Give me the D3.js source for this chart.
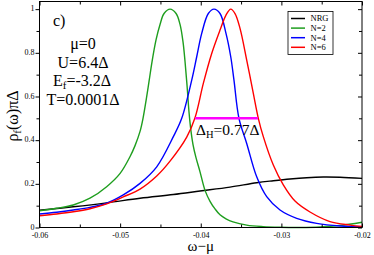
<!DOCTYPE html>
<meta charset="utf-8">
<style>
body { margin: 0; }
.line { fill: none; stroke-width: 1.4px; }
text { font-family: "Liberation Serif", "DejaVu Serif", serif; }
.tick line { stroke: #000; }
</style>
<script src="https://d3js.org/d3.v7.min.js"></script>
<body>
<div id="chart"></div>
</body>
<script>

// spectral function curves [omega - mu, rho]
var nrg = [
  [-0.06, 0.079], [-0.05581, 0.095], [-0.05167, 0.113], [-0.04753, 0.134],
  [-0.04340, 0.151], [-0.04009, 0.167], [-0.03637, 0.185], [-0.03306, 0.205],
  [-0.03100, 0.214], [-0.02893, 0.222], [-0.02686, 0.228], [-0.02480, 0.231],
  [-0.02273, 0.230], [-0.02, 0.225]
];
var n2 = [
  [-0.06, 0.076], [-0.05787, 0.088], [-0.05581, 0.103], [-0.05374, 0.134],
  [-0.05167, 0.187], [-0.05, 0.248], [-0.04878, 0.324], [-0.04815, 0.375],
  [-0.04753, 0.440], [-0.04716, 0.500], [-0.04679, 0.580], [-0.04641, 0.670],
  [-0.04604, 0.760], [-0.04554, 0.860], [-0.04505, 0.930], [-0.04455, 0.980],
  [-0.04381, 1.0], [-0.04306, 0.980], [-0.04257, 0.930], [-0.04220, 0.850],
  [-0.04195, 0.760], [-0.04170, 0.650], [-0.04146, 0.530], [-0.04127, 0.460],
  [-0.04096, 0.380], [-0.04059, 0.320], [-0.04009, 0.255], [-0.03947, 0.170],
  [-0.03885, 0.120], [-0.03823, 0.085], [-0.03761, 0.058], [-0.03687, 0.040],
  [-0.03600, 0.026], [-0.03430, 0.011], [-0.03228, 0.004], [-0.03017, 0.001],
  [-0.02769, 0.0], [-0.02521, 0.002], [-0.02273, 0.009], [-0.02, 0.024]
];
var n4 = [
  [-0.06, 0.062], [-0.05787, 0.070], [-0.05581, 0.080], [-0.05374, 0.092],
  [-0.05167, 0.111], [-0.04961, 0.149], [-0.04753, 0.202], [-0.04546, 0.278],
  [-0.04340, 0.416], [-0.04236, 0.500], [-0.04112, 0.675], [-0.04050, 0.782],
  [-0.03988, 0.889], [-0.03906, 0.980], [-0.03836, 1.0], [-0.03761, 0.980],
  [-0.03687, 0.889], [-0.03628, 0.782], [-0.03588, 0.675], [-0.03526, 0.500],
  [-0.03430, 0.385], [-0.03306, 0.232], [-0.03182, 0.141], [-0.03017, 0.080],
  [-0.02810, 0.042], [-0.02562, 0.019], [-0.02273, 0.007], [-0.02, 0.004]
];
var n6 = [
  [-0.06, 0.054], [-0.05787, 0.062], [-0.05581, 0.072], [-0.05374, 0.086],
  [-0.05167, 0.108], [-0.04961, 0.140], [-0.04753, 0.176], [-0.04546, 0.236],
  [-0.04381, 0.304], [-0.04174, 0.414], [-0.04071, 0.503], [-0.03968, 0.660],
  [-0.03864, 0.797], [-0.03761, 0.904], [-0.03687, 0.973], [-0.03628, 1.0],
  [-0.03575, 0.980], [-0.03513, 0.912], [-0.03430, 0.767], [-0.03348, 0.614],
  [-0.03286, 0.500], [-0.03224, 0.416], [-0.03100, 0.286], [-0.02976, 0.195],
  [-0.02831, 0.121], [-0.02645, 0.071], [-0.02397, 0.027], [-0.02149, 0.011],
  [-0.02, 0.005]
];

// half width marker on the N=6 peak
var halfWidthX = [-0.0407, -0.0329];
var halfWidthY = 0.5;

var seriesNames = ["NRG", "N=2", "N=4", "N=6"];
var seriesColors = ["#000000", "#1e9e1e", "#0000ff", "#ff0000"];

var xTickVals = [-0.06, -0.05, -0.04, -0.03, -0.02];
var xTickLabels = ["-0.06", "-0.05", "-0.04", "-0.03", "-0.02"];
var xMinorVals = [-0.055, -0.045, -0.035, -0.025];
var yTickVals = [0, 0.2, 0.4, 0.6, 0.8, 1];
var yTickLabels = ["0", "0.2", "0.4", "0.6", "0.8", "1"];
var yMinorVals = [0.1, 0.3, 0.5, 0.7, 0.9];

// set the dimensions and margins of the graph
var margin = {top: 1.5, right: 12, bottom: 27.5, left: 39.5},
    width = 374 - margin.left - margin.right,
    height = 255 - margin.top - margin.bottom;

var x = d3.scaleLinear().domain([-0.06, -0.02]).range([0, width]);
var y = d3.scaleLinear().domain([0, 1.035]).range([height, 0]);

var svg = d3.select("#chart").append("svg")
    .attr("width", 374)
    .attr("height", 255);

var g = svg.append("g")
    .attr("transform", "translate(" + margin.left + "," + margin.top + ")");

var valueline = d3.line()
    .x(function(d) { return x(d[0]); })
    .y(function(d) { return y(d[1]); })
    .curve(d3.curveCatmullRom.alpha(0.5));

// curves
[nrg, n2, n4, n6].forEach(function(s, i) {
  g.append("path")
      .datum(s)
      .attr("class", "line")
      .style("stroke", seriesColors[i])
      .attr("d", valueline);
});

// magenta half width line
g.append("line")
    .attr("x1", x(halfWidthX[0]))
    .attr("x2", x(halfWidthX[1]))
    .attr("y1", y(halfWidthY))
    .attr("y2", y(halfWidthY))
    .style("stroke", "#ff00ff")
    .style("stroke-width", 2.5);

// axes - bottom
g.append("g")
    .attr("transform", "translate(0," + height + ")")
    .call(d3.axisBottom(x).tickValues(xTickVals)
      .tickFormat(function(d, i) { return xTickLabels[i]; })
      .tickSize(-4).tickSizeOuter(0).tickPadding(5));
g.append("g")
    .attr("transform", "translate(0," + height + ")")
    .call(d3.axisBottom(x).tickValues(xMinorVals).tickFormat("").tickSize(-3).tickSizeOuter(0));
// top
g.append("g")
    .call(d3.axisTop(x).tickValues(xTickVals).tickFormat("").tickSize(-4).tickSizeOuter(0));
g.append("g")
    .call(d3.axisTop(x).tickValues(xMinorVals).tickFormat("").tickSize(-3).tickSizeOuter(0));
// left
g.append("g")
    .attr("class", "yaxis")
    .call(d3.axisLeft(y).tickValues(yTickVals)
      .tickFormat(function(d, i) { return yTickLabels[i]; })
      .tickSize(4).tickSizeOuter(0).tickPadding(1));
g.append("g")
    .call(d3.axisLeft(y).tickValues(yMinorVals).tickFormat("").tickSize(3).tickSizeOuter(0));
// right
g.append("g")
    .attr("transform", "translate(" + width + ",0)")
    .call(d3.axisRight(y).tickValues(yTickVals).tickFormat("").tickSize(-4).tickSizeOuter(0));
g.append("g")
    .attr("transform", "translate(" + width + ",0)")
    .call(d3.axisRight(y).tickValues(yMinorVals).tickFormat("").tickSize(-3).tickSizeOuter(0));

g.selectAll(".domain").remove();
g.selectAll(".tick text")
    .style("font-family", "'Liberation Serif', serif")
    .style("font-size", "8px")
    .style("fill", "#000");
g.selectAll(".yaxis .tick text").attr("dy", "0.22em");

// frame
g.append("rect")
    .attr("width", width)
    .attr("height", height)
    .style("fill", "none")
    .style("stroke", "#000")
    .style("stroke-width", 1);

// legend
var legend = g.append("g").attr("transform", "translate(248.5,10)");
legend.append("rect")
    .attr("width", 45)
    .attr("height", 43)
    .style("fill", "#fff")
    .style("stroke", "#000")
    .style("stroke-width", 0.8);
seriesNames.forEach(function(name, i) {
  var ry = 7 + i * 9.6;
  legend.append("line")
      .attr("x1", 3).attr("x2", 17)
      .attr("y1", ry).attr("y2", ry)
      .style("stroke", seriesColors[i])
      .style("stroke-width", 1.5);
  legend.append("text")
      .attr("x", 22.5).attr("y", ry)
      .attr("dy", "0.35em")
      .style("font-size", "8.5px")
      .text(name);
});

// annotations
svg.append("text").attr("x", 53).attr("y", 25.5)
    .style("font-size", "16px").text("c)");

var params = svg.append("g").style("font-size", "16px").attr("text-anchor", "middle");
params.append("text").attr("x", 83).attr("y", 49).text("μ=0");
params.append("text").attr("x", 83).attr("y", 67.5).text("U=6.4Δ");
var ef = params.append("text").attr("x", 82).attr("y", 86);
ef.append("tspan").text("E");
ef.append("tspan").attr("dy", 3).style("font-size", "11px").text("f");
ef.append("tspan").attr("dy", -3).text("=-3.2Δ");
params.append("text").attr("x", 83).attr("y", 104.5).text("T=0.0001Δ");

var dh = svg.append("text").attr("x", 196).attr("y", 135).style("font-size", "15.5px");
dh.append("tspan").text("Δ");
dh.append("tspan").attr("dy", 3).style("font-size", "10.5px").text("H");
dh.append("tspan").attr("dy", -3).text("=0.77Δ");

// axis titles
svg.append("text")
    .attr("x", margin.left + x(-0.04))
    .attr("y", 251)
    .attr("text-anchor", "middle")
    .style("font-size", "15px")
    .text("ω−μ");

var yl = svg.append("text")
    .attr("transform", "translate(18,116) rotate(-90)")
    .attr("text-anchor", "middle")
    .style("font-size", "16px");
yl.append("tspan").text("ρ");
yl.append("tspan").attr("dy", 3).style("font-size", "11px").text("f");
yl.append("tspan").attr("dy", -3).text("(ω)πΔ");

</script>
